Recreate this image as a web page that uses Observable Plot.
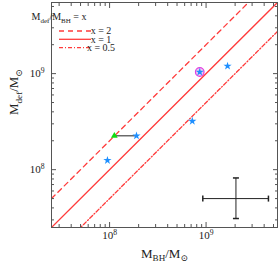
<!DOCTYPE html>
<html><head><meta charset="utf-8">
<script src="https://cdn.jsdelivr.net/npm/d3@7"></script>
<script src="https://cdn.jsdelivr.net/npm/@observablehq/plot@0.6"></script>
<style>body{margin:0;background:#fff} svg{display:block}</style>
</head><body><div id="chart"></div>
<script>
// ---- data ----
const domainM = [2.5e7, 5.5e9];
const starMBH  = [8.6e8, 1.67e9, 7.2e8, 1.9e8, 9.5e7];
const starMdef = [1.04e9, 1.2e9, 3.2e8, 2.25e8, 1.25e8];
const circledMBH = [8.6e8];
const circledMdef = [1.04e9];
const triMBH = [1.12e8];
const triMdef = [2.25e8];
const arrowFrom = [1.9e8, 2.25e8];
const arrowTo = [1.12e8, 2.25e8];
const ratios = [2, 1, 0.5];
const ratioLabels = ["x = 2", "x = 1", "x = 0.5"];
const errCenter = [2.04e9, 5.0e7];
const errX = [9.25e8, 4.43e9];
const errY = [3.1e7, 8.2e7];
const majorTicks = [1e8, 1e9];
const minorTicks = [3e7,4e7,5e7,6e7,7e7,8e7,9e7,2e8,3e8,4e8,5e8,6e8,7e8,8e8,9e8,2e9,3e9,4e9,5e9];

const stars = starMBH.map((x, i) => ({x, y: starMdef[i]}));
const dashes = ["5,4", null, "4,2,1,2"];
const lines = ratios.flatMap((r, k) => domainM.map(x => ({k, x, y: r * x})));

const red = "#ff3b3b";
const vbar = {draw(c, size){ c.moveTo(0,-3); c.lineTo(0,3); }};
const hbar = {draw(c, size){ c.moveTo(-3,0); c.lineTo(3,0); }};
const fmt = d => "10^{" + Math.round(Math.log10(d)) + "}";

const plot = Plot.plot({
  width: 279, height: 266,
  marginLeft: 51, marginRight: 2, marginTop: 2, marginBottom: 39,
  style: {fontFamily: "'Liberation Serif', 'DejaVu Serif', serif", fontSize: "11px", background: "#fff", color: "#222"},
  x: {type: "log", domain: domainM, axis: null, label: null},
  y: {type: "log", domain: domainM, axis: null, label: null},
  marks: [
    ...ratios.map((r, k) => Plot.line(lines.filter(d => d.k === k), {x: "x", y: "y", stroke: red, strokeWidth: 1.3, strokeDasharray: dashes[k], clip: true})),
    Plot.link([0], {x1: () => arrowFrom[0], y1: () => arrowFrom[1], x2: () => arrowTo[0], y2: () => arrowTo[1], stroke: "#222", strokeWidth: 1}),
    Plot.dot(circledMBH.map((x, i) => ({x, y: circledMdef[i]})), {x: "x", y: "y", r: 4.3, stroke: "#e040e0", fill: "#f3c8f3", strokeWidth: 1.2}),
    Plot.dot(stars, {x: "x", y: "y", symbol: "star", r: 2.6, fill: "#1e8fff"}),
    Plot.dot(triMBH.map((x, i) => ({x, y: triMdef[i]})), {x: "x", y: "y", symbol: "triangle", r: 2.5, fill: "#11dd11"}),
    // error bar
    Plot.link([0], {x1: () => errX[0], x2: () => errX[1], y1: () => errCenter[1], y2: () => errCenter[1], stroke: "#222"}),
    Plot.link([0], {x1: () => errCenter[0], x2: () => errCenter[0], y1: () => errY[0], y2: () => errY[1], stroke: "#222"}),
    Plot.dot(errX, {x: d => d, y: () => errCenter[1], symbol: vbar, stroke: "#222", r: 3}),
    Plot.dot(errY, {x: () => errCenter[0], y: d => d, symbol: hbar, stroke: "#222", r: 3}),
    // frame & ticks
    Plot.frame({stroke: "#555"}),
    ...["bottom", "top"].flatMap(a => [
      Plot.axisX({anchor: a, ticks: majorTicks, tickSize: -5, text: null, label: null, stroke: "#555"}),
      Plot.axisX({anchor: a, ticks: minorTicks, tickSize: -3, text: null, label: null, stroke: "#555"})
    ]),
    ...["left", "right"].flatMap(a => [
      Plot.axisY({anchor: a, ticks: majorTicks, tickSize: -5, text: null, label: null, stroke: "#555"}),
      Plot.axisY({anchor: a, ticks: minorTicks, tickSize: -3, text: null, label: null, stroke: "#555"})
    ]),
    Plot.axisX({anchor: "bottom", ticks: majorTicks, tickSize: 0, tickPadding: 4, tickFormat: fmt, label: null}),
    Plot.axisY({anchor: "left", ticks: majorTicks, tickSize: 0, tickPadding: 7, tickFormat: fmt, label: null}),
    Plot.text([0], {frameAnchor: "bottom", dy: 30, text: () => "M_{BH}/M_{⊙}", fontSize: 13}),
    Plot.text([0], {frameAnchor: "left", dx: -38, rotate: -90, text: () => "M_{def}/M_{⊙}", fontSize: 13})
  ]
});
document.getElementById("chart").appendChild(plot);

// legend (inside frame, top-left)
const svg = d3.select(plot);
const lg = svg.append("g").attr("font-family", "'Liberation Serif', serif").attr("font-size", 10).attr("fill", "#222");
lg.append("text").attr("x", 59).attr("y", 20).text("M_{def}/M_{BH} = x");
ratios.forEach((r, k) => {
  const y = 31 + k * 8.3;
  lg.append("line").attr("x1", 59).attr("x2", 91).attr("y1", y).attr("y2", y)
    .attr("stroke", red).attr("stroke-width", 1.3).attr("stroke-dasharray", dashes[k] || null);
  lg.append("text").attr("x", 101).attr("y", y + 3.3).text(ratioLabels[k]);
});

// rich text: ^{sup} and _{sub}
function richify(root) {
  root.querySelectorAll("text").forEach(t => {
    const s = t.textContent;
    if (!/[\^_]\{/.test(s)) return;
    const fs = parseFloat(getComputedStyle(t).fontSize) || 11;
    t.textContent = "";
    const re = /([\^_])\{([^}]*)\}|([^\^_]+)/g;
    let m, shift = 0;
    while ((m = re.exec(s))) {
      const ts = document.createElementNS("http://www.w3.org/2000/svg", "tspan");
      if (m[3]) { ts.textContent = m[3]; ts.setAttribute("dy", -shift); shift = 0; }
      else {
        const d = m[1] === "^" ? -0.42 * fs : 0.3 * fs;
        ts.textContent = m[2];
        ts.setAttribute("font-size", (fs * 0.7).toFixed(1));
        ts.setAttribute("dy", d - shift); shift = d;
      }
      t.appendChild(ts);
    }
  });
}
richify(plot);
</script></body></html>
